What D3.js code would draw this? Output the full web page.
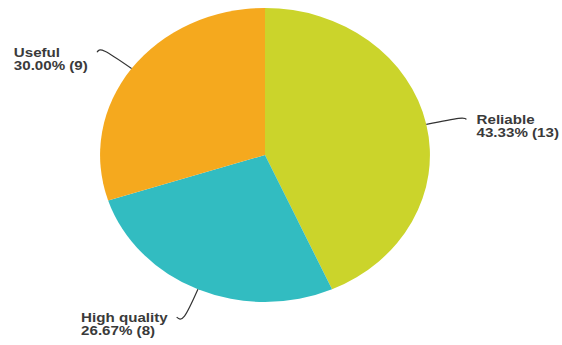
<!DOCTYPE html>
<html>
<head>
<meta charset="utf-8">
<script src="https://cdn.jsdelivr.net/npm/d3@7"></script>
<style>
  body { margin: 0; background: #fff; }
  text { font-family: Arial, 'Liberation Sans', sans-serif; }
</style>
</head>
<body>
<div id="chart"></div>
<script>
// slice data, clockwise from 12 o'clock
const categories = ['Reliable', 'High quality', 'Useful'];
const counts = [13, 8, 9];

const width = 562;
const height = 345;
// the source picture is stretched sideways a little
const stretchX = 1.122;
const radius = 147;
const centerX = 265 / stretchX;
const centerY = 155;

const total = d3.sum(counts);
const data = categories.map((c, i) => ({label: c, value: counts[i]}));

const colors = d3.scaleOrdinal()
  .domain(categories)
  .range(['#cbd42b', '#32bcc1', '#f5a91e']);

const svg = d3.select('#chart')
  .append('svg')
  .attr('width', width)
  .attr('height', height);

const g = svg.append('g')
  .attr('transform', 'scale(' + stretchX + ',1) translate(' + centerX + ',' + centerY + ')');

const pie = d3.pie().sort(null).value(d => d.value);
const arcs = pie(data);

const arc = d3.arc().innerRadius(0).outerRadius(radius);

g.selectAll('path.slice')
  .data(arcs)
  .enter()
  .append('path')
  .attr('class', 'slice')
  .attr('d', arc)
  .attr('fill', d => colors(d.data.label));

// leader lines: out from the edge along the middle angle, then a short hook
const lineGen = d3.line().curve(d3.curveNatural);

function leaderPoints(d) {
  const a = (d.startAngle + d.endAngle) / 2;
  const dx = Math.sin(a), dy = -Math.cos(a);
  const side = dx >= 0 ? 1 : -1;
  const p0 = [dx * radius, dy * radius];
  const p1 = [dx * radius * 1.2, dy * radius * 1.2];
  const p2 = [p1[0] + side * 7, p1[1] + 1];
  return {pts: [p0, p1, p2], side: side};
}

g.selectAll('path.leader')
  .data(arcs)
  .enter()
  .append('path')
  .attr('class', 'leader')
  .attr('d', d => lineGen(leaderPoints(d).pts))
  .attr('fill', 'none')
  .attr('stroke', '#333')
  .attr('stroke-width', 1.2)
  .attr('vector-effect', 'non-scaling-stroke');

// labels
arcs.forEach(d => {
  const lp = leaderPoints(d);
  const end = lp.pts[2];
  const pct = (d.value / total * 100).toFixed(2) + '% (' + d.value + ')';

  const t = g.append('text')
    .attr('y', end[1] + 4.5)
    .style('font-size', '13.5px')
    .style('font-weight', 'bold')
    .attr('fill', '#3a3a3a');

  t.append('tspan').attr('x', 0).text(d.data.label);
  t.append('tspan').attr('x', 0).attr('dy', 13.5).text(pct);

  let x;
  if (lp.side > 0) {
    x = end[0] + 9;
  } else {
    x = end[0] - 8 - t.node().getBBox().width;
  }
  t.selectAll('tspan').attr('x', x);
});
</script>
</body>
</html>
